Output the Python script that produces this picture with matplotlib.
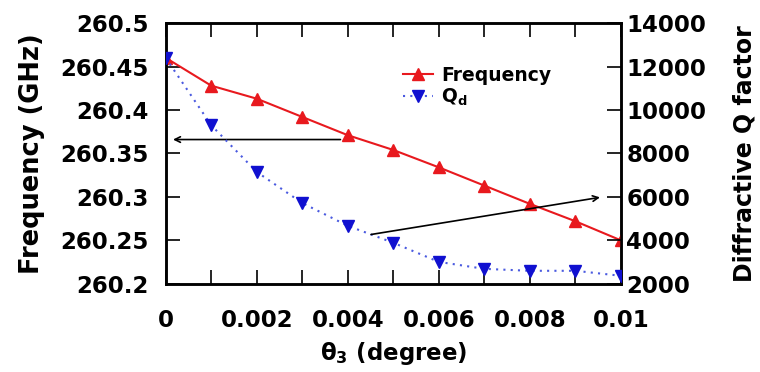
import matplotlib
matplotlib.use("Agg")
import matplotlib.pyplot as plt
from matplotlib.ticker import MultipleLocator

plt.rcParams["font.family"] = ["DejaVu Sans"]
plt.rcParams["font.weight"] = "bold"
plt.rcParams["mathtext.fontset"] = "custom"
plt.rcParams["mathtext.rm"] = "DejaVu Sans:bold"
plt.rcParams["mathtext.it"] = "DejaVu Sans:bold"
plt.rcParams["mathtext.bf"] = "DejaVu Sans:bold"

# data
theta = [0, 0.001, 0.002, 0.003, 0.004, 0.005, 0.006, 0.007, 0.008, 0.009, 0.01]
freq = [260.46, 260.428, 260.413, 260.392, 260.371, 260.354, 260.334, 260.313, 260.292, 260.272, 260.25]
q_d = [12400, 9300, 7150, 5720, 4670, 3890, 3010, 2690, 2600, 2600, 2370]

x_ticks = [0, 0.002, 0.004, 0.006, 0.008, 0.01]
x_labels = ["0", "0.002", "0.004", "0.006", "0.008", "0.01"]
freq_ticks = [260.2, 260.25, 260.3, 260.35, 260.4, 260.45, 260.5]
freq_labels = ["260.2", "260.25", "260.3", "260.35", "260.4", "260.45", "260.5"]
q_ticks = [2000, 4000, 6000, 8000, 10000, 12000, 14000]

fs = 16.5
red = "#e8191e"
blue = "#1010d0"

fig = plt.figure(figsize=(7.6, 3.72), dpi=100)
ax = fig.add_axes([0.218, 0.237, 0.599, 0.701])
ax2 = ax.twinx()

l1, = ax.plot(theta, freq, color=red, lw=1.5, marker="^", ms=8.5, label="Frequency", zorder=3)
l2, = ax2.plot(theta, q_d, color="#4a5ae0", lw=1.5, ls=(0, (1, 2.5)), marker="v", ms=8.5,
               mfc=blue, mec=blue, label="Q$_\\mathregular{d}$", zorder=3)

ax.set_xlim(0, 0.01)
ax.set_ylim(260.2, 260.5)
ax2.set_ylim(2000, 14000)

ax.set_xticks(x_ticks)
ax.set_xticklabels(x_labels)
ax.xaxis.set_minor_locator(MultipleLocator(0.001))
ax.set_yticks(freq_ticks)
ax.set_yticklabels(freq_labels)
ax2.set_yticks(q_ticks)
ax2.set_yticklabels([str(v) for v in q_ticks])

for a in (ax, ax2):
    a.tick_params(which="both", direction="in", length=10, width=1.2, labelsize=fs)
    for s in a.spines.values():
        s.set_linewidth(1.8)
ax.tick_params(axis="x", which="both", top=True, bottom=True, pad=18)
ax.tick_params(axis="y", pad=12)
ax2.tick_params(axis="y", pad=4)

ax.set_xlabel("θ$_3$ (degree)", fontsize=16.5, fontweight="bold", labelpad=6)
ax.set_ylabel("Frequency (GHz)", fontsize=18.5, fontweight="bold", labelpad=11)
ax2.set_ylabel("Diffractive Q factor", fontsize=17, fontweight="bold", labelpad=19)

ax.annotate("", xy=(0.0001, 260.366), xytext=(0.0039, 260.366),
            arrowprops=dict(arrowstyle="->", color="black", lw=1.2))
ax2.annotate("", xy=(0.0096, 6000), xytext=(0.00445, 4250),
             arrowprops=dict(arrowstyle="->", color="black", lw=1.2))

ax.legend([l1, l2], ["Frequency", "Q$_\\mathregular{d}$"], loc="upper left",
          bbox_to_anchor=(0.485, 0.90), frameon=False, fontsize=13.5,
          handlelength=1.6, handletextpad=0.4, labelspacing=0.1)

fig.savefig("out.png", dpi=100)
